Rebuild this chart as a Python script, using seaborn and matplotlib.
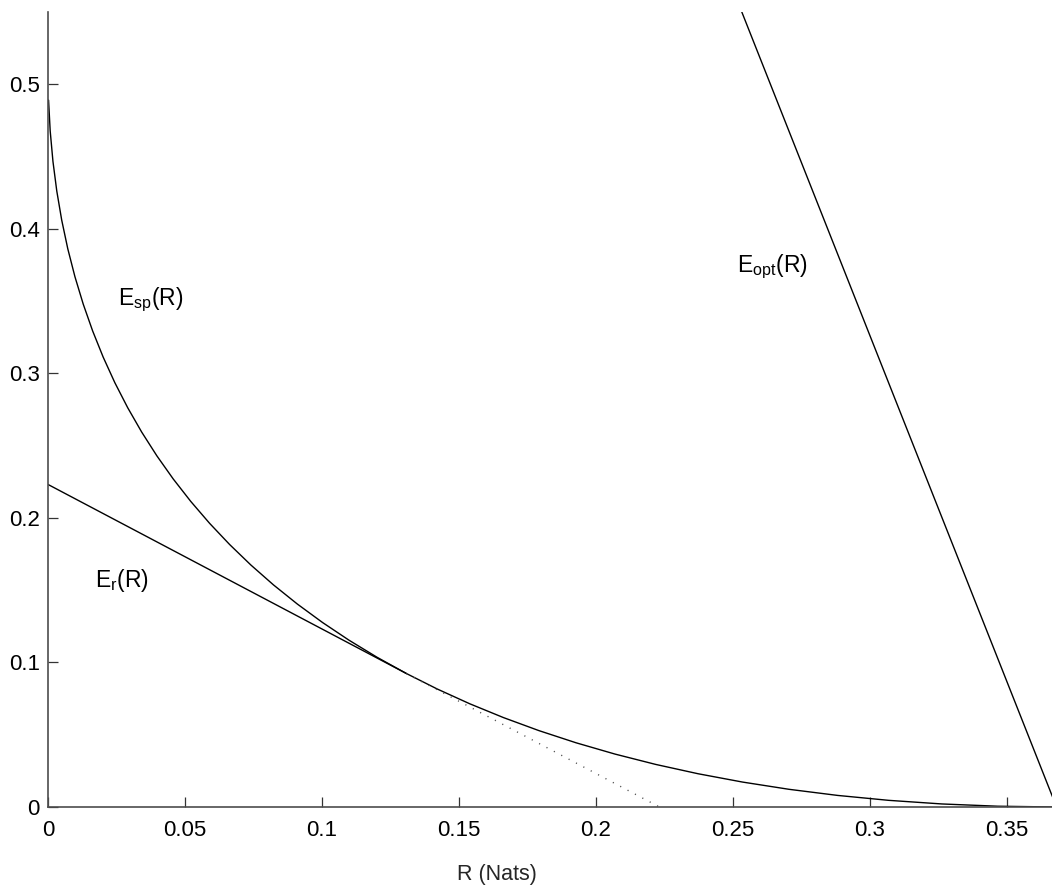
import matplotlib
matplotlib.use("Agg")
import matplotlib.pyplot as plt
import seaborn as sns

# Sphere-packing exponent E_sp(R) for a BSC (crossover 0.1), in nats
rate_sp = [0.000199, 0.000800, 0.001801, 0.003204, 0.005008, 0.007217, 0.009832,
           0.012855, 0.016289, 0.020135, 0.024398, 0.029083, 0.034192, 0.039729,
           0.045700, 0.052112, 0.058968, 0.066278, 0.074046, 0.082282, 0.090996,
           0.100194, 0.109888, 0.120090, 0.130811, 0.142067, 0.153871, 0.166239,
           0.179191, 0.192744, 0.206924, 0.221753, 0.237260, 0.253477, 0.270438,
           0.288183, 0.306760, 0.326222, 0.346632, 0.368064]
exp_sp = [0.489053, 0.467682, 0.446710, 0.426141, 0.405973, 0.386210, 0.366852,
          0.347903, 0.329365, 0.311239, 0.293529, 0.276242, 0.259379, 0.242944,
          0.226942, 0.211382, 0.196266, 0.181604, 0.167399, 0.153663, 0.140405,
          0.127631, 0.115352, 0.103582, 0.092331, 0.081615, 0.071447, 0.061842,
          0.052822, 0.044403, 0.036611, 0.029467, 0.023002, 0.017247, 0.012236,
          0.008008, 0.004613, 0.002103, 0.000541, 0.0]

# Random-coding exponent: straight part up to the critical rate
rate_r = [0.0, 0.130811]
exp_r = [0.223144, 0.092331]

# Continuation of the straight part beyond the critical rate
rate_r_ext = [0.130811, 0.223144]
exp_r_ext = [0.092331, 0.0]

# Optimal exponent line
rate_opt = [0.2532, 0.368064]
exp_opt = [0.55, 0.0]

x_ticks = [0, 0.05, 0.1, 0.15, 0.2, 0.25, 0.3, 0.35]
x_tick_labels = ["0", "0.05", "0.1", "0.15", "0.2", "0.25", "0.3", "0.35"]
y_ticks = [0, 0.1, 0.2, 0.3, 0.4, 0.5]
y_tick_labels = ["0", "0.1", "0.2", "0.3", "0.4", "0.5"]

sns.set_style("ticks")
plt.rcParams["font.family"] = ["Liberation Sans", "DejaVu Sans"]
plt.rcParams["mathtext.fontset"] = "custom"
plt.rcParams["mathtext.rm"] = "Liberation Sans"
plt.rcParams["mathtext.it"] = "Liberation Sans"

fig = plt.figure(figsize=(10.52, 8.93), dpi=100)
ax = fig.add_axes([48 / 1052, 86 / 893, 1004 / 1052, 795 / 893])

line_kw = dict(color="black", linewidth=1.0, sort=False, estimator=None, ax=ax)
sns.lineplot(x=rate_sp, y=exp_sp, **line_kw)
sns.lineplot(x=rate_r, y=exp_r, **line_kw)
sns.lineplot(x=rate_opt, y=exp_opt, **line_kw)
sns.lineplot(x=rate_r_ext, y=exp_r_ext, color="0.3", linewidth=1.0, sort=False,
             estimator=None, ax=ax, linestyle=(0, (0.8, 5.2)))

ax.set_xlim(0, 0.3664)
ax.set_ylim(0, 0.55)
ax.set_xticks(x_ticks)
ax.set_xticklabels(x_tick_labels)
ax.set_yticks(y_ticks)
ax.set_yticklabels(y_tick_labels)
ax.tick_params(direction="in", length=7, width=0.9, color="0.2",
               labelsize=16, labelcolor="black")
ax.tick_params(axis="x", pad=9)
ax.tick_params(axis="y", pad=6)

for side in ("top", "right"):
    ax.spines[side].set_visible(False)
for side in ("left", "bottom"):
    ax.spines[side].set_color("0.3")
    ax.spines[side].set_linewidth(1.2)

ax.set_xlabel("R (Nats)", fontsize=15.5)
ax.xaxis.set_label_coords(0.447, -0.0855)
ax.xaxis.label.set_va("center")

label_kw = dict(fontsize=16.5, ha="left", va="baseline", color="black")
ax.text(0.0255, 0.3474, r"$\mathrm{E_{sp}(R)}$", **label_kw)
ax.text(0.2515, 0.3702, r"$\mathrm{E_{opt}(R)}$", **label_kw)
ax.text(0.0172, 0.1522, r"$\mathrm{E_{r}(R)}$", **label_kw)

fig.savefig("out.png", dpi=100, facecolor="white")
